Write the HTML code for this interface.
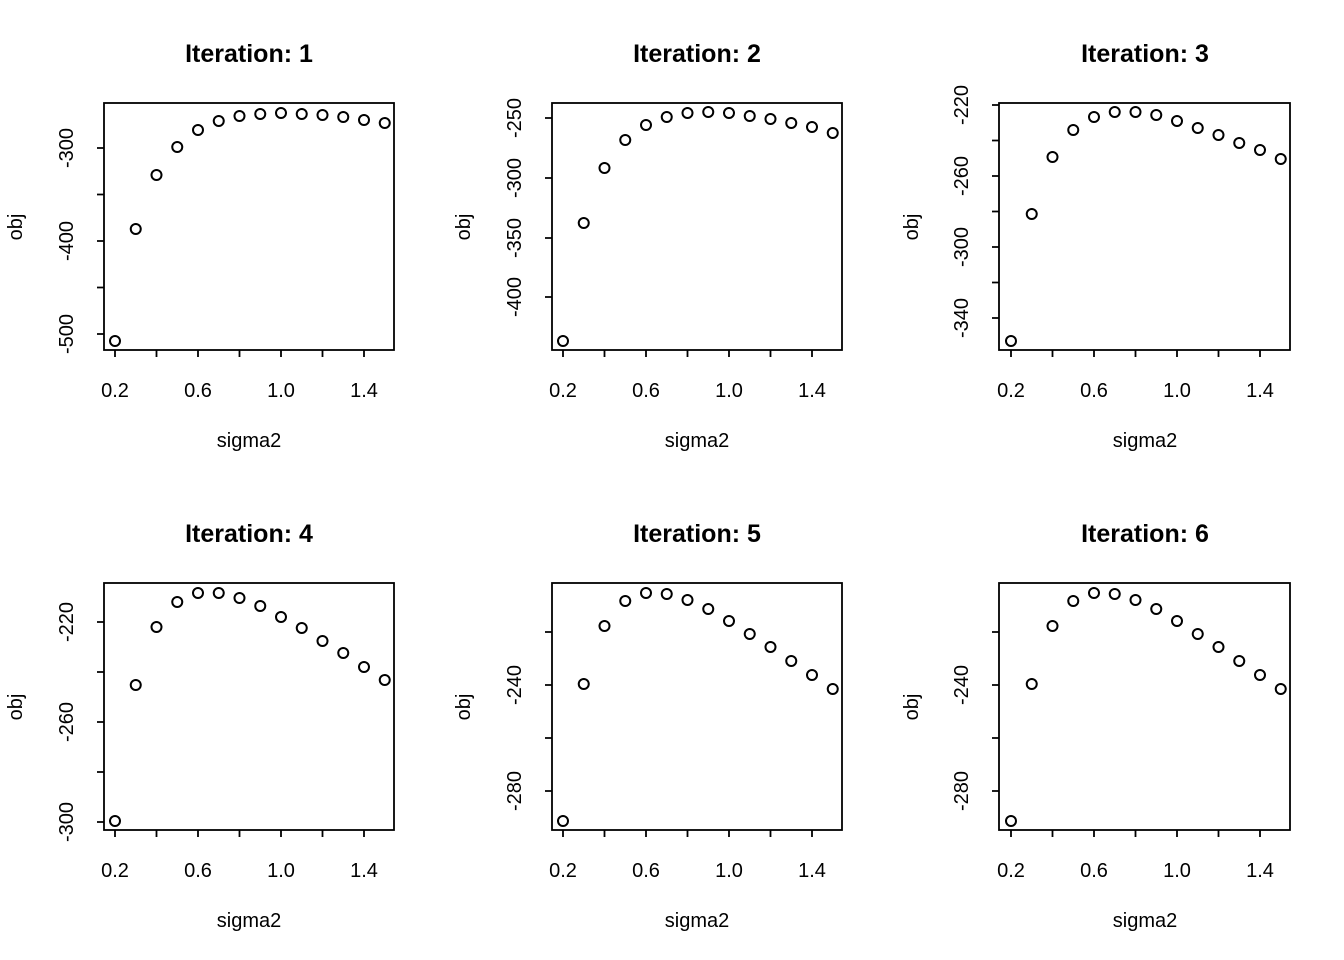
<!DOCTYPE html>
<html><head><meta charset="utf-8"><style>
html,body{margin:0;padding:0;background:#fff}
svg{display:block}
text{font-family:"Liberation Sans",Arial,sans-serif;fill:#000}
.t{font-size:25px;font-weight:bold;text-anchor:middle}
.l{font-size:20px;text-anchor:middle}
circle{fill:none;stroke:#000;stroke-width:2}
.ax{stroke:#000;stroke-width:1.8;fill:none}
</style></head><body>
<svg width="1344" height="960" viewBox="0 0 1344 960" xmlns="http://www.w3.org/2000/svg">
<defs>
<g id="xa">
<path class="ax" d="M115 350V357M156.5 350V357M198 350V357M239.5 350V357M281 350V357M322.5 350V357M364 350V357"/>
<text class="l" x="115" y="397">0.2</text><text class="l" x="198" y="397">0.6</text><text class="l" x="281" y="397">1.0</text><text class="l" x="364" y="397">1.4</text>
<text class="l" x="249" y="447">sigma2</text>
<text class="l" transform="translate(22,227) rotate(-90)">obj</text>
</g>
</defs>

<!-- Panel 1 -->
<g>
<rect class="ax" x="104" y="103" width="290" height="247"/>
<use href="#xa"/>
<path class="ax" d="M104 148H97M104 194.5H97M104 241H97M104 287.5H97M104 334H97"/>
<text class="l" transform="translate(73,148) rotate(-90)">-300</text>
<text class="l" transform="translate(73,241) rotate(-90)">-400</text>
<text class="l" transform="translate(73,334) rotate(-90)">-500</text>
<text class="t" x="249" y="62">Iteration: 1</text>
<circle cx="115" cy="341" r="5"/><circle cx="135.75" cy="229" r="5"/><circle cx="156.5" cy="175" r="5"/><circle cx="177.25" cy="147" r="5"/><circle cx="198" cy="130" r="5"/><circle cx="218.75" cy="121" r="5"/><circle cx="239.5" cy="116" r="5"/><circle cx="260.25" cy="114" r="5"/><circle cx="281" cy="113" r="5"/><circle cx="301.75" cy="114" r="5"/><circle cx="322.5" cy="115" r="5"/><circle cx="343.25" cy="117" r="5"/><circle cx="364" cy="120" r="5"/><circle cx="384.75" cy="123" r="5"/>
</g>

<!-- Panel 2 -->
<g transform="translate(448,0)">
<rect class="ax" x="104" y="103" width="290" height="247"/>
<use href="#xa"/>
<path class="ax" d="M104 118H97M104 178H97M104 238H97M104 297H97"/>
<text class="l" transform="translate(73,118) rotate(-90)">-250</text>
<text class="l" transform="translate(73,178) rotate(-90)">-300</text>
<text class="l" transform="translate(73,238) rotate(-90)">-350</text>
<text class="l" transform="translate(73,297) rotate(-90)">-400</text>
<text class="t" x="249" y="62">Iteration: 2</text>
<circle cx="115" cy="341" r="5"/><circle cx="135.75" cy="223" r="5"/><circle cx="156.5" cy="168" r="5"/><circle cx="177.25" cy="140" r="5"/><circle cx="198" cy="125" r="5"/><circle cx="218.75" cy="117" r="5"/><circle cx="239.5" cy="113" r="5"/><circle cx="260.25" cy="112" r="5"/><circle cx="281" cy="113" r="5"/><circle cx="301.75" cy="116" r="5"/><circle cx="322.5" cy="119" r="5"/><circle cx="343.25" cy="123" r="5"/><circle cx="364" cy="127" r="5"/><circle cx="384.75" cy="133" r="5"/>
</g>

<!-- Panel 3 -->
<g transform="translate(896,0)">
<rect class="ax" x="103" y="103" width="291" height="247"/>
<use href="#xa"/>
<path class="ax" d="M103 105H96M103 140.5H96M103 176H96M103 211.5H96M103 247H96M103 282.5H96M103 318H96"/>
<text class="l" transform="translate(72,105) rotate(-90)">-220</text>
<text class="l" transform="translate(72,176) rotate(-90)">-260</text>
<text class="l" transform="translate(72,247) rotate(-90)">-300</text>
<text class="l" transform="translate(72,318) rotate(-90)">-340</text>
<text class="t" x="249" y="62">Iteration: 3</text>
<circle cx="115" cy="341" r="5"/><circle cx="135.75" cy="214" r="5"/><circle cx="156.5" cy="157" r="5"/><circle cx="177.25" cy="130" r="5"/><circle cx="198" cy="117" r="5"/><circle cx="218.75" cy="112" r="5"/><circle cx="239.5" cy="112" r="5"/><circle cx="260.25" cy="115" r="5"/><circle cx="281" cy="121" r="5"/><circle cx="301.75" cy="128" r="5"/><circle cx="322.5" cy="135" r="5"/><circle cx="343.25" cy="143" r="5"/><circle cx="364" cy="150" r="5"/><circle cx="384.75" cy="159" r="5"/>
</g>

<!-- Panel 4 -->
<g transform="translate(0,480)">
<rect class="ax" x="104" y="103" width="290" height="247"/>
<use href="#xa"/>
<path class="ax" d="M104 142H97M104 192H97M104 242H97M104 292H97M104 342H97"/>
<text class="l" transform="translate(73,142) rotate(-90)">-220</text>
<text class="l" transform="translate(73,242) rotate(-90)">-260</text>
<text class="l" transform="translate(73,342) rotate(-90)">-300</text>
<text class="t" x="249" y="62">Iteration: 4</text>
<circle cx="115" cy="341" r="5"/><circle cx="135.75" cy="205" r="5"/><circle cx="156.5" cy="147" r="5"/><circle cx="177.25" cy="122" r="5"/><circle cx="198" cy="113" r="5"/><circle cx="218.75" cy="113" r="5"/><circle cx="239.5" cy="118" r="5"/><circle cx="260.25" cy="126" r="5"/><circle cx="281" cy="137" r="5"/><circle cx="301.75" cy="148" r="5"/><circle cx="322.5" cy="161" r="5"/><circle cx="343.25" cy="173" r="5"/><circle cx="364" cy="187" r="5"/><circle cx="384.75" cy="200" r="5"/>
</g>

<!-- Panel 5 -->
<g transform="translate(448,480)">
<rect class="ax" x="104" y="103" width="290" height="247"/>
<use href="#xa"/>
<path class="ax" d="M104 152H97M104 205H97M104 258H97M104 311H97"/>
<text class="l" transform="translate(73,205) rotate(-90)">-240</text>
<text class="l" transform="translate(73,311) rotate(-90)">-280</text>
<text class="t" x="249" y="62">Iteration: 5</text>
<circle cx="115" cy="341" r="5"/><circle cx="135.75" cy="204" r="5"/><circle cx="156.5" cy="146" r="5"/><circle cx="177.25" cy="121" r="5"/><circle cx="198" cy="113" r="5"/><circle cx="218.75" cy="114" r="5"/><circle cx="239.5" cy="120" r="5"/><circle cx="260.25" cy="129" r="5"/><circle cx="281" cy="141" r="5"/><circle cx="301.75" cy="154" r="5"/><circle cx="322.5" cy="167" r="5"/><circle cx="343.25" cy="181" r="5"/><circle cx="364" cy="195" r="5"/><circle cx="384.75" cy="209" r="5"/>
</g>

<!-- Panel 6 -->
<g transform="translate(896,480)">
<rect class="ax" x="103" y="103" width="291" height="247"/>
<use href="#xa"/>
<path class="ax" d="M103 152H96M103 205H96M103 258H96M103 311H96"/>
<text class="l" transform="translate(72,205) rotate(-90)">-240</text>
<text class="l" transform="translate(72,311) rotate(-90)">-280</text>
<text class="t" x="249" y="62">Iteration: 6</text>
<circle cx="115" cy="341" r="5"/><circle cx="135.75" cy="204" r="5"/><circle cx="156.5" cy="146" r="5"/><circle cx="177.25" cy="121" r="5"/><circle cx="198" cy="113" r="5"/><circle cx="218.75" cy="114" r="5"/><circle cx="239.5" cy="120" r="5"/><circle cx="260.25" cy="129" r="5"/><circle cx="281" cy="141" r="5"/><circle cx="301.75" cy="154" r="5"/><circle cx="322.5" cy="167" r="5"/><circle cx="343.25" cy="181" r="5"/><circle cx="364" cy="195" r="5"/><circle cx="384.75" cy="209" r="5"/>
</g>
</svg>
</body></html>
